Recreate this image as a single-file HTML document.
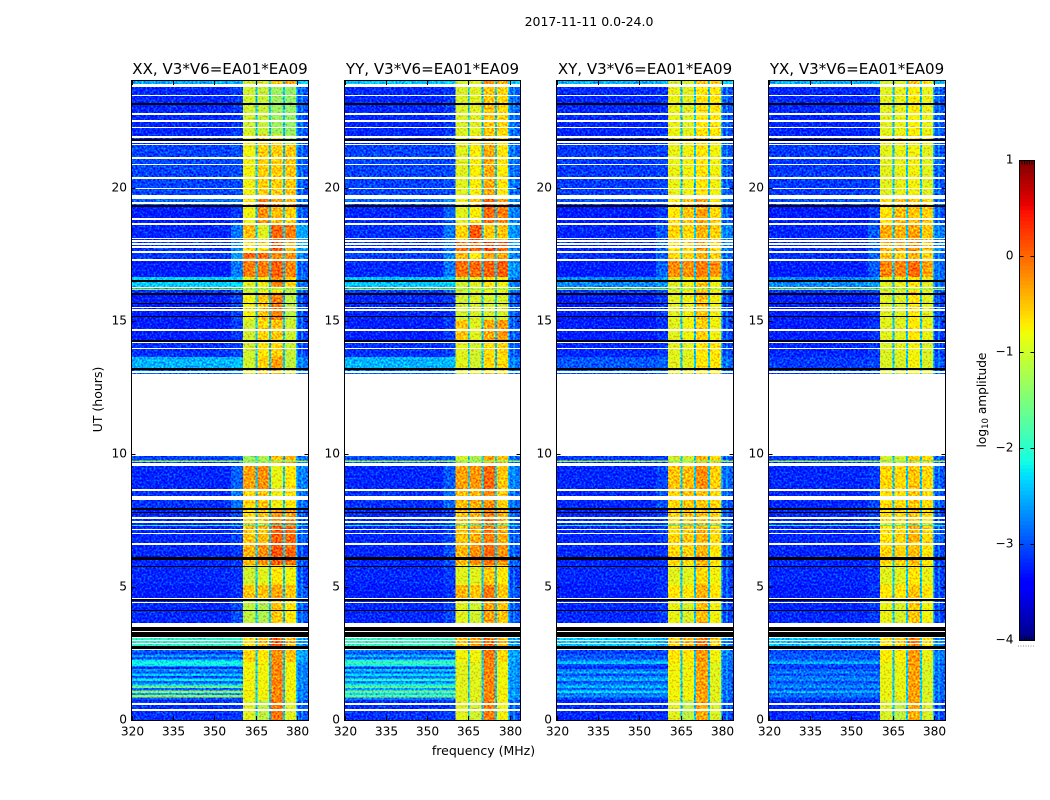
<!DOCTYPE html>
<html>
<head>
<meta charset="utf-8">
<title>2017-11-11 0.0-24.0</title>
<style>
html,body{margin:0;padding:0;background:#fff;}
svg{display:block;font-family:"DejaVu Sans","Liberation Sans",sans-serif;}
text{fill:#000;}
</style>
</head>
<body>
<svg id="figure" xmlns="http://www.w3.org/2000/svg" width="1050" height="800" viewBox="0 0 1050 800">
  <defs>
    <filter id="speckle" filterUnits="userSpaceOnUse" x="125" y="75" width="830" height="650" color-interpolation-filters="sRGB">
      <feTurbulence type="fractalNoise" baseFrequency="0.5" numOctaves="2" seed="7" result="n"/>
      <feColorMatrix in="n" type="matrix" values="0 0 0 0 .5  2.2 0 0 0 -.6  0 0 0 0 .5  0 0 0 0 1" result="g"/>
      <feComposite in="SourceGraphic" in2="g" operator="arithmetic" k1="0" k2="1" k3="0.65" k4="-0.325" result="mix"/>
      <feComposite in="mix" in2="SourceAlpha" operator="in"/>
    </filter>
  </defs>
  <text x="589" y="26" font-size="12.5" text-anchor="middle">2017-11-11 0.0-24.0</text>
  <text x="483.5" y="755" font-size="12.5" text-anchor="middle">frequency (MHz)</text>
  <text x="102" y="399.5" font-size="12.5" text-anchor="middle" transform="rotate(-90 102 399.5)">UT (hours)</text>
  <text x="986" y="400" font-size="12.2" text-anchor="middle" transform="rotate(-90 986 400)">log<tspan font-size="8.5" dy="2">10</tspan><tspan dy="-2"> amplitude</tspan></text>
  <g id="panels"></g>
  <g id="colorbar"></g>
</svg>
<script>
// ---------- categories and tick labels ----------
const panelTitles = ["XX, V3*V6=EA01*EA09", "YY, V3*V6=EA01*EA09", "XY, V3*V6=EA01*EA09", "YX, V3*V6=EA01*EA09"];
const freqTicks = [320, 335, 350, 365, 380];
const timeTicks = [0, 5, 10, 15, 20];
const colorbarTicks = [1, 0, -1, -2, -3, -4];

// Frequency columns in MHz, in the order of the level rows below
const bgBand = [320, 356];
const edgeBand = [356, 360.4];
const blockA = [360.4, 364.9];
const blockB = [365.5, 369.8];
const blockC = [370.5, 374.8];
const blockD = [375.5, 379.5];
const rightBand = [380, 384];
// Narrow low-amplitude channels between the blocks
const gapBands = [[364.9, 365.5], [369.8, 370.5], [374.8, 375.5], [379.5, 380], [381.4, 381.8]];
const gapLevel = -2.4;

// Time bands in hours [high, low]
const timeBands = [[24.00,23.89],[23.89,21.97],[21.97,21.60],[21.60,19.72],[19.72,19.31],[19.31,18.63],[18.63,18.03],[18.03,17.58],[17.58,17.28],[17.28,16.64],[16.64,16.26],[16.26,15.96],[15.96,15.02],[15.02,14.27],[14.27,13.63],[13.63,13.18],[13.18,13.00],
 [9.92,9.58],[9.58,8.64],[8.64,7.89],[7.89,7.47],[7.47,6.57],[6.57,5.82],[5.82,5.07],[5.07,4.51],[4.51,3.57],[3.12,2.63],[2.63,2.18],[2.18,0.75],[0.75,0]];

// log10 amplitude per time band: [bg, edge, A, B, C, D, right]
const levelsXX = [
[-2.55,-2.5,-1.0,-.95,-.45,-.35,-2.3],[-3.2,-3.1,-1.0,-1.05,-1.3,-1.35,-3.0],[-3.2,-3.05,-.8,-.55,-.7,-1.2,-3.0],[-3.05,-3.0,-.8,-.55,-.55,-.5,-3.0],[-2.9,-2.8,-.7,-.1,-.3,-.4,-2.9],[-3.25,-3.1,-.8,-.2,-.45,-.55,-3.0],[-3.2,-2.8,-.45,-.9,0,-.1,-2.6],[-3.15,-2.7,-.7,-.6,.1,-.4,-2.6],[-3.1,-2.6,0,0,-.2,-.2,-2.8],[-3.25,-2.8,-.1,-.1,.05,-.15,-3.0],[-2.35,-2.3,-.9,-.8,-.2,-.6,-2.9],[-3.1,-2.9,-1.0,-.8,-.7,-1.1,-3.0],[-3.25,-3.05,-.8,-.5,-.1,-1.1,-3.1],[-3.25,-3.1,-1.0,-.6,-.5,-1.0,-3.1],[-3.15,-3.05,-1.0,-.7,-.55,-1.05,-3.1],[-2.5,-2.45,-1.0,-.55,-.3,-1.1,-2.8],[-2.9,-2.8,-.9,-.5,-.4,-1.0,-2.9],
[-3.05,-3.0,-1.3,-1.2,-.5,-.4,-2.9],[-3.2,-2.9,-.3,-.2,-.85,-.7,-2.8],[-3.15,-2.8,-.6,-.5,-.8,-.7,-2.9],[-3.2,-3.05,-.65,-.5,-.2,-.3,-3.0],[-3.2,-3.05,-.5,-.45,.05,0,-3.0],[-3.2,-3.1,-.4,-.2,.1,0,-3.1],[-3.2,-3.15,-1.0,-.9,-.7,-.8,-3.1],[-3.25,-3.15,-.5,-.5,-.3,-.5,-3.0],[-3.2,-3.0,-1.1,-1.2,-.5,-.7,-3.0],[-1.95,-1.95,-.7,-.4,.1,-.4,-2.7],[-2.9,-2.7,-.6,-.7,-.2,-.5,-2.6],[-2.9,-2.7,-.8,-.8,-.15,-.8,-2.8],[-3.15,-3.1,-.9,-1.1,-.05,-.9,-3.0]];
const levelsYY = [
[-2.4,-2.4,-1.0,-.9,-.2,-.4,-2.3],[-3.2,-3.1,-.95,-.9,-.5,-.6,-2.9],[-3.2,-3.0,-.9,-.6,-.4,-.7,-2.9],[-3.05,-3.0,-.9,-.75,-.35,-.7,-2.9],[-2.9,-2.7,-.8,-.5,.05,-.3,-2.8],[-3.2,-2.9,-.9,-.75,0,-.1,-2.8],[-3.15,-2.8,-.6,.1,-.5,-.5,-2.7],[-3.15,-2.8,0,0,.2,.1,-2.7],[-3.05,-2.7,-.4,-.7,-.3,-.3,-2.8],[-3.2,-2.8,-.05,0,.05,.05,-2.7],[-2.4,-2.35,-1.0,-.9,-.7,-.8,-2.8],[-3.05,-2.9,-1.0,-.9,-.8,-.85,-2.9],[-3.2,-3.1,-1.0,-.95,-.95,-.95,-3.0],[-3.25,-3.1,-.5,-.9,-.35,-.25,-3.0],[-3.15,-3.05,-.9,-1.0,-.6,-.6,-3.0],[-2.5,-2.45,-.9,-1.0,-.6,-.6,-2.8],[-2.9,-2.8,-.9,-.9,-.5,-.6,-2.9],
[-3.0,-2.95,-1.0,-1.2,-.3,-.5,-2.9],[-3.2,-2.95,-.3,-.25,0,-.5,-2.8],[-3.15,-2.85,-.45,-.4,-.2,-.55,-2.9],[-3.2,-3.05,-.5,-.4,-.1,-.35,-3.0],[-3.2,-3.05,-.5,-.35,-.1,-.35,-3.0],[-3.2,-3.0,-.4,-.2,0,-.2,-3.0],[-3.2,-3.1,-.9,-.9,-.5,-.7,-3.1],[-3.25,-3.15,-.4,-.5,-.1,-.5,-3.0],[-3.2,-3.05,-.9,-1.0,-.3,-.5,-3.0],[-1.9,-1.9,-.5,-.3,0,-.4,-2.6],[-2.8,-2.7,-.8,-.8,-.1,-.6,-2.6],[-2.8,-2.6,-.9,-.9,-.15,-.8,-2.7],[-3.15,-3.1,-.9,-1.0,-.1,-.8,-3.0]];
const levelsXY = [
[-2.5,-2.45,-1.0,-.95,-.5,-.6,-2.4],[-3.2,-3.15,-.85,-.9,-.7,-.7,-3.0],[-3.2,-3.1,-.8,-.7,-.6,-.75,-3.0],[-3.1,-3.05,-.85,-.8,-.7,-.8,-3.0],[-3.0,-2.9,-.7,-.5,-.3,-.6,-2.9],[-3.25,-3.1,-.7,-.5,-.3,-.6,-3.0],[-3.2,-2.95,-.6,-.6,-.4,-.55,-2.8],[-3.2,-2.9,-.6,-.6,-.3,-.55,-2.8],[-3.15,-2.9,-.6,-.6,-.4,-.55,-2.9],[-3.25,-2.9,-.2,-.2,-.1,-.2,-3.0],[-2.7,-2.6,-.9,-.8,-.5,-.8,-2.9],[-3.1,-3.0,-.9,-.8,-.5,-.8,-3.0],[-3.25,-3.1,-.9,-.8,-.5,-.8,-3.1],[-3.25,-3.15,-.9,-.8,-.55,-.8,-3.1],[-3.2,-3.1,-.9,-.9,-.7,-.7,-3.1],[-2.95,-2.9,-.9,-.9,-.7,-.7,-2.9],[-3.0,-2.9,-.9,-.9,-.7,-.7,-3.0],
[-3.1,-3.05,-1.0,-1.0,-.4,-.6,-3.0],[-3.2,-3.05,-.5,-.45,-.2,-.55,-2.9],[-3.2,-3.0,-.6,-.5,-.5,-.6,-3.0],[-3.2,-3.1,-.6,-.5,-.5,-.6,-3.0],[-3.2,-3.1,-.6,-.5,-.4,-.6,-3.0],[-3.2,-3.15,-.6,-.6,-.4,-.7,-3.1],[-3.2,-3.15,-.9,-.9,-.6,-.8,-3.1],[-3.25,-3.15,-.7,-.7,-.4,-.7,-3.1],[-3.2,-3.1,-.85,-.95,-.45,-.8,-3.1],[-2.4,-2.5,-.6,-.4,-.1,-.6,-2.8],[-3.05,-2.95,-.7,-.7,-.25,-.8,-2.8],[-2.95,-2.9,-.8,-.8,-.3,-.9,-2.9],[-3.2,-3.15,-.9,-1.1,-.35,-.95,-3.05]];
const levelsYX = [
[-2.5,-2.45,-1.0,-.95,-.5,-.7,-2.4],[-3.2,-3.15,-.9,-.85,-.75,-.85,-3.0],[-3.2,-3.1,-.75,-.65,-.6,-.8,-3.0],[-3.1,-3.05,-.9,-.85,-.8,-.9,-3.0],[-3.0,-2.9,-.65,-.5,-.5,-.6,-2.9],[-3.25,-3.1,-.65,-.45,-.5,-.55,-3.0],[-3.2,-2.95,-.35,-.4,-.3,-.5,-2.8],[-3.2,-2.9,-.4,-.35,-.2,-.5,-2.8],[-3.15,-2.9,-.5,-.6,-.4,-.6,-2.9],[-3.25,-2.95,-.15,-.15,0,-.3,-2.9],[-2.7,-2.6,-.9,-.85,-.7,-.9,-2.9],[-3.1,-3.0,-.9,-.9,-.7,-.9,-3.0],[-3.25,-3.15,-.9,-.9,-.7,-.9,-3.1],[-3.25,-3.15,-.9,-.9,-.7,-.85,-3.1],[-3.2,-3.1,-.95,-.9,-.8,-.95,-3.1],[-3.1,-3.05,-.95,-.95,-.8,-.95,-3.0],[-3.1,-3.05,-.95,-.95,-.8,-.95,-3.0],
[-3.1,-3.05,-1.0,-1.0,-.5,-.6,-3.0],[-3.2,-3.1,-.6,-.6,-.5,-.6,-3.0],[-3.2,-3.05,-.65,-.6,-.5,-.65,-3.0],[-3.2,-3.1,-.65,-.6,-.5,-.65,-3.1],[-3.2,-3.1,-.7,-.6,-.4,-.6,-3.0],[-3.2,-3.15,-.6,-.55,-.45,-.7,-3.1],[-3.2,-3.15,-.9,-.9,-.7,-.85,-3.1],[-3.25,-3.15,-.7,-.7,-.5,-.7,-3.1],[-3.2,-3.1,-.85,-.95,-.5,-.8,-3.1],[-2.45,-2.5,-.7,-.5,-.15,-.7,-2.8],[-3.05,-2.95,-.75,-.75,-.25,-.85,-2.8],[-2.95,-2.9,-.85,-.85,-.3,-.95,-2.9],[-3.2,-3.15,-.95,-1.1,-.35,-.95,-3.05]];
const panelLevels = [levelsXX, levelsYY, levelsXY, levelsYX];

// Narrow horizontal stripes below 2.6 h (background channels only)
const stripeEdges = [2.55,2.46,2.37,2.28,2.19,2.10,2.01,1.92,1.83,1.74,1.65,1.56,1.47,1.38,1.29,1.20,1.11,1.02,0.93,0.84,0.75];
const stripesXX = [-3.1,-2.6,-3.0,-2.3,-2.1,-2.2,-3.2,-2.6,-3.0,-2.4,-3.0,-2.2,-2.9,-2.4,-1.6,-2.9,-1.4,-2.6,-1.3,-3.0];
const stripesYY = [-3.0,-2.5,-2.9,-2.1,-1.9,-2.1,-3.1,-2.4,-2.9,-2.3,-2.8,-2.0,-2.7,-2.2,-1.7,-2.6,-1.6,-2.3,-1.6,-2.8];
const stripesXY = [-3.1,-2.9,-3.0,-2.7,-2.4,-3.0,-3.2,-2.8,-2.5,-3.0,-2.7,-2.5,-3.0,-2.7,-2.5,-2.9,-2.3,-2.8,-2.7,-3.1];
const stripesYX = [-3.0,-2.9,-3.0,-2.8,-2.5,-3.0,-3.1,-2.9,-2.7,-3.0,-2.8,-2.7,-3.0,-2.8,-2.7,-3.0,-2.5,-2.9,-2.8,-3.1];
const panelStripes = [stripesXX, stripesYY, stripesXY, stripesYX];

// Thin interference rows: [high, low, level]
const hotRows = [[16.20,16.15,-1.3],[9.74,9.69,-1.3],[7.61,7.56,-1.4],[7.33,7.28,-2.0]];

// Flagged time ranges in hours [high, low]
const whiteRows = [[23.89,23.77],[23.49,23.44],[22.78,22.73],[22.52,22.47],[22.29,22.24],[21.92,21.87],[21.73,21.68],[21.63,21.58],[21.13,21.08],[20.90,20.85],[20.38,20.33],[20.00,19.96],[19.72,19.57],[19.44,19.39],[18.84,18.79],[18.65,18.60],[18.12,18.07],[18.01,17.96],[17.90,17.85],[17.79,17.74],[17.60,17.55],[17.30,17.25],[16.28,16.23],[15.53,15.48],[15.42,15.37],[14.67,14.62],[14.22,14.17],[13.99,13.94],[13.09,13.04],[13.00,9.92],[9.67,9.62],[9.60,9.55],[8.67,8.60],[8.40,8.35],[8.32,8.27],[7.61,7.56],[7.46,7.41],[7.19,7.14],[7.04,6.99],[6.63,6.58],[4.60,4.55],[4.45,4.40],[3.64,3.53],[3.35,3.31],[3.12,3.08],[3.02,2.98],[2.90,2.85],[2.69,2.64],[0.62,0.57],[0.40,0.35]];
const blackRows = [[23.16,23.11],[21.81,21.74],[19.33,19.28],[16.51,16.46],[16.02,15.97],[15.68,15.63],[15.19,15.14],[14.26,14.21],[13.21,13.13],[7.95,7.90],[7.83,7.78],[6.14,6.09],[6.07,6.02],[5.80,5.75],[4.53,4.48],[4.15,4.10],[3.49,3.36],[3.31,3.12],[2.78,2.67]];

// ---------- axis functions ----------
const panelLeft = [131.5, 344.5, 556.5, 768.5];
const panelRight = [308.5, 520.5, 733.5, 945.5];
const plotTop = 81, plotBottom = 720;
const freqMin = 320, freqMax = 384, timeMin = 0, timeMax = 24, levelMin = -4, levelMax = 1;
const barLeft = 1019.5, barRight = 1034.5, barTop = 160.5, barBottom = 640.5;
function xScale(panel, f) { return panelLeft[panel] + (f - freqMin) * (panelRight[panel] - panelLeft[panel]) / (freqMax - freqMin); }
function yScale(t) { return plotBottom - (t - timeMin) * (plotBottom - plotTop) / (timeMax - timeMin); }
function barScale(v) { return barBottom - (v - levelMin) * (barBottom - barTop) / (levelMax - levelMin); }
function interp(v, pts) {
  for (let i = 1; i < pts.length; i++) {
    if (v <= pts[i][0]) { const a = pts[i - 1], b = pts[i]; return a[1] + (b[1] - a[1]) * (v - a[0]) / (b[0] - a[0]); }
  }
  return pts[pts.length - 1][1];
}
function jet(level) {
  const v = Math.max(0, Math.min(1, (level - levelMin) / (levelMax - levelMin)));
  const r = interp(v, [[0, 0], [.35, 0], [.66, 1], [.89, 1], [1, .5]]);
  const g = interp(v, [[0, 0], [.125, 0], [.375, 1], [.64, 1], [.91, 0], [1, 0]]);
  const b = interp(v, [[0, .5], [.11, 1], [.34, 1], [.65, 0], [1, 0]]);
  return "rgb(" + Math.round(r * 255) + "," + Math.round(g * 255) + "," + Math.round(b * 255) + ")";
}
const NS = "http://www.w3.org/2000/svg";
function make(tag, parent, attrs) {
  const el = document.createElementNS(NS, tag);
  for (const k in attrs) el.setAttribute(k, attrs[k]);
  parent.appendChild(el);
  return el;
}
function label(v) { return v < 0 ? "\u2212" + Math.abs(v) : String(v); }
function snapTop(row) { return Math.round(yScale(row[0])); }
function snapHeight(row) { return Math.max(1, Math.round(yScale(row[1])) - Math.round(yScale(row[0]))); }

// ---------- draw panels ----------
const panelsRoot = document.getElementById("panels");
const cellsGroup = make("g", panelsRoot, { filter: "url(#speckle)", "shape-rendering": "crispEdges" });


const overlayGroup = make("g", panelsRoot, { "shape-rendering": "crispEdges" });


const axesGroup = make("g", panelsRoot, {});



function cell(p, f0, f1, t0, t1, level) {
  const rect = make("rect", cellsGroup, {
    x: xScale(p, f0), y: yScale(t0),
    width: xScale(p, f1) - xScale(p, f0), height: yScale(t1) - yScale(t0),
    fill: jet(level)
  });
  
  
}

panelTitles.forEach(function (title, p) {
  const columns = [bgBand, edgeBand, blockA, blockB, blockC, blockD, rightBand];
  timeBands.forEach(function (band, b) {
    columns.forEach(function (col, c) { cell(p, col[0], col[1], band[0], band[1], panelLevels[p][b][c]); });
    gapBands.forEach(function (gap) {
      cell(p, gap[0], gap[1], band[0], band[1], gapLevel);
    });
  });
  panelStripes[p].forEach(function (level, i) {
    cell(p, freqMin, edgeBand[1], stripeEdges[i], stripeEdges[i + 1], level);
  });
  hotRows.forEach(function (row) {
    cell(p, freqMin, freqMax, row[0], row[1], row[2]);
  });
  whiteRows.forEach(function (row) {
    const w = make("rect", overlayGroup, { x: panelLeft[p], y: snapTop(row), width: panelRight[p] - panelLeft[p], height: snapHeight(row), fill: "#fff" });
    
    
  });
  blackRows.forEach(function (row) {
    const k = make("rect", overlayGroup, { x: panelLeft[p], y: snapTop(row), width: panelRight[p] - panelLeft[p], height: snapHeight(row), fill: "#000" });
    
    
  });

  const frame = make("rect", axesGroup, { x: panelLeft[p], y: plotTop - .5, width: panelRight[p] - panelLeft[p], height: plotBottom - plotTop + 1, fill: "none", stroke: "#000", "stroke-width": 1 });
  
  

  const titleEl = make("text", axesGroup, { x: (panelLeft[p] + panelRight[p]) / 2, y: 74, "font-size": 15.05, "text-anchor": "middle" });
  titleEl.textContent = title;
  
  

  freqTicks.forEach(function (f) {
    const x = Math.round(xScale(p, f)) + .5;
    const t1 = make("line", axesGroup, { x1: x, x2: x, y1: plotBottom, y2: plotBottom - 4, stroke: "#000" });
    
    
    const t2 = make("line", axesGroup, { x1: x, x2: x, y1: plotTop, y2: plotTop + 4, stroke: "#000" });
    
    
    const lab = make("text", axesGroup, { x: x, y: 735.5, "font-size": 12.2, "text-anchor": "middle" });
    lab.textContent = label(f);
    
    
  });
  timeTicks.forEach(function (t) {
    const y = Math.round(yScale(t)) + .5;
    const t1 = make("line", axesGroup, { x1: panelLeft[p], x2: panelLeft[p] + 4, y1: y, y2: y, stroke: "#000" });
    
    
    const t2 = make("line", axesGroup, { x1: panelRight[p], x2: panelRight[p] - 4, y1: y, y2: y, stroke: "#000" });
    
    
    const lab = make("text", axesGroup, { x: panelLeft[p] - 4.5, y: y + 3, "font-size": 12.2, "text-anchor": "end" });
    lab.textContent = label(t);
    
    
  });
});

// ---------- draw colorbar ----------
const barRoot = document.getElementById("colorbar");
const barSteps = 128;
for (let i = 0; i < barSteps; i++) {
  const v0 = levelMin + (levelMax - levelMin) * i / barSteps;
  const v1 = levelMin + (levelMax - levelMin) * (i + 1) / barSteps;
  const seg = make("rect", barRoot, { x: barLeft, y: barScale(v1), width: barRight - barLeft, height: barScale(v0) - barScale(v1) + .5, fill: jet((v0 + v1) / 2), "shape-rendering": "crispEdges" });
  
  
}
const barFrame = make("rect", barRoot, { x: barLeft, y: barTop, width: barRight - barLeft, height: barBottom - barTop, fill: "none", stroke: "#000" });


colorbarTicks.forEach(function (v) {
  const y = Math.round(barScale(v)) + .5 - (v === 1 ? 0 : 1);
  if (v !== 1 && v !== -4) {
    const a = make("line", barRoot, { x1: barLeft, x2: barLeft + 4, y1: y, y2: y, stroke: "#000" });
    
    
    const c = make("line", barRoot, { x1: barRight, x2: barRight - 4, y1: y, y2: y, stroke: "#000" });
    
    
  }
  const lab = make("text", barRoot, { x: barLeft - 6, y: y + (v === 1 ? 2 : 3), "font-size": 12.2, "text-anchor": "end" });
  lab.textContent = label(v);
  
  
});
const barMinorTicks = [0, 1, 2, 3, 4, 5, 6];
barMinorTicks.forEach(function (k) {
  const x = barLeft + (barRight - barLeft) * k / 6;
  const t = make("line", barRoot, { x1: x, x2: x, y1: barTop, y2: barTop + 4, stroke: "#000", "stroke-width": .8 });
  
  
  const u = make("line", barRoot, { x1: x, x2: x, y1: barBottom, y2: barBottom - 4, stroke: "#000", "stroke-width": .8 });
  
  
  const d = make("rect", barRoot, { x: x - 1.5, y: 645.5, width: 1, height: 1, fill: "#888" });
  
  
});
</script>
</body>
</html>
